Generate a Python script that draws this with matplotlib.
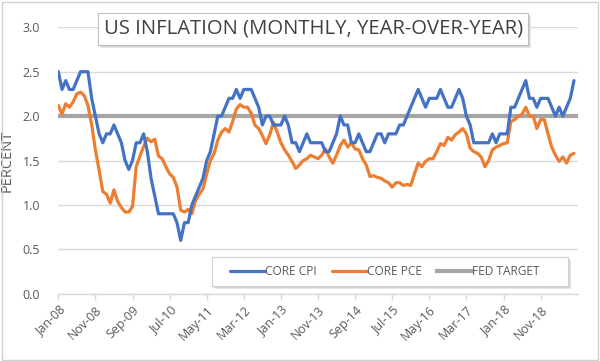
import matplotlib
matplotlib.use("Agg")
import matplotlib.pyplot as plt
from matplotlib.patches import Rectangle
import numpy as np

plt.rcParams['font.family'] = ['Open Sans', 'DejaVu Sans']

tick_labels = ['Jan-08', 'Nov-08', 'Sep-09', 'Jul-10', 'May-11', 'Mar-12', 'Jan-13',
               'Nov-13', 'Sep-14', 'Jul-15', 'May-16', 'Mar-17', 'Jan-18', 'Nov-18']

core_cpi = [
    2.5, 2.3, 2.4, 2.3, 2.3, 2.4, 2.5, 2.5, 2.5, 2.2, 2.0, 1.8,
    1.7, 1.8, 1.8, 1.9, 1.8, 1.7, 1.5, 1.4, 1.5, 1.7, 1.7, 1.8,
    1.6, 1.3, 1.1, 0.9, 0.9, 0.9, 0.9, 0.9, 0.8, 0.6, 0.8, 0.8,
    1.0, 1.1, 1.2, 1.3, 1.5, 1.6, 1.8, 2.0, 2.0, 2.1, 2.2, 2.2,
    2.3, 2.2, 2.3, 2.3, 2.3, 2.2, 2.1, 1.9, 2.0, 2.0, 1.9, 1.9,
    1.9, 2.0, 1.9, 1.7, 1.7, 1.6, 1.7, 1.8, 1.7, 1.7, 1.7, 1.7,
    1.6, 1.6, 1.7, 1.8, 2.0, 1.9, 1.9, 1.7, 1.7, 1.8, 1.7, 1.6,
    1.6, 1.7, 1.8, 1.8, 1.7, 1.8, 1.8, 1.8, 1.9, 1.9, 2.0, 2.1,
    2.2, 2.3, 2.2, 2.1, 2.2, 2.2, 2.2, 2.3, 2.2, 2.1, 2.1, 2.2,
    2.3, 2.2, 2.0, 1.9, 1.7, 1.7, 1.7, 1.7, 1.7, 1.8, 1.7, 1.8,
    1.8, 1.8, 2.1, 2.1, 2.2, 2.3, 2.4, 2.2, 2.2, 2.1, 2.2, 2.2,
    2.2, 2.1, 2.0, 2.1, 2.0, 2.1, 2.2, 2.4,
]

core_pce = [
    2.12, 2.02, 2.14, 2.10, 2.16, 2.25, 2.27, 2.23, 2.12, 1.90, 1.62, 1.39,
    1.15, 1.12, 1.02, 1.17, 1.04, 0.97, 0.92, 0.92, 0.98, 1.43, 1.55, 1.66,
    1.75, 1.71, 1.74, 1.55, 1.52, 1.43, 1.35, 1.31, 1.20, 0.94, 0.92, 0.95,
    0.90, 1.05, 1.12, 1.18, 1.35, 1.50, 1.58, 1.73, 1.82, 1.86, 1.82, 1.94,
    2.08, 2.13, 2.10, 2.10, 2.03, 1.90, 1.86, 1.78, 1.69, 1.79, 1.93, 1.82,
    1.70, 1.62, 1.56, 1.49, 1.41, 1.45, 1.50, 1.52, 1.56, 1.54, 1.52, 1.56,
    1.63, 1.54, 1.47, 1.56, 1.67, 1.73, 1.65, 1.70, 1.63, 1.62, 1.52, 1.45,
    1.32, 1.33, 1.31, 1.30, 1.27, 1.25, 1.20, 1.25, 1.25, 1.22, 1.23, 1.22,
    1.35, 1.47, 1.43, 1.49, 1.52, 1.52, 1.60, 1.69, 1.67, 1.76, 1.73, 1.79,
    1.82, 1.86, 1.80, 1.64, 1.60, 1.58, 1.54, 1.43, 1.50, 1.62, 1.65, 1.67,
    1.69, 1.70, 1.94, 1.96, 2.00, 2.02, 2.10, 2.00, 2.00, 1.86, 1.96, 1.96,
    1.80, 1.65, 1.56, 1.49, 1.54, 1.47, 1.56, 1.58,
]

fed_target = 2.0

series_names = ['CORE CPI', 'CORE PCE', 'FED TARGET']
colors = ['#4472C4', '#ED7D31', '#A5A5A5']

W, H = 600, 361
fig = plt.figure(figsize=(6.0, 3.61), dpi=100)
fig.patch.set_facecolor('white')

ax = fig.add_axes([58.3 / W, 1 - 293.7 / H, (577.7 - 58.3) / W, (293.7 - 27.3) / H])

x = np.arange(len(core_cpi))
fed_line = ax.axhline(fed_target, color=colors[2], lw=3.0, zorder=2, label=series_names[2])
l1, = ax.plot(x, core_cpi, color=colors[0], lw=2.3, zorder=4, label=series_names[0],
              solid_joinstyle='round', solid_capstyle='round')
l2, = ax.plot(np.arange(len(core_pce)), core_pce, color=colors[1], lw=2.3, zorder=3,
              label=series_names[1], solid_joinstyle='round', solid_capstyle='round')

ax.set_xlim(0, 140)
ax.set_ylim(0, 3.0)
yt = np.arange(0, 3.01, 0.5)
ax.set_yticks(yt)
ax.set_yticklabels([f'{v:.1f}' for v in yt])
ax.yaxis.grid(True, color='#D9D9D9', lw=1.0)
ax.set_axisbelow(True)
ax.tick_params(axis='y', length=0, pad=13, labelsize=9, labelcolor='#595959')

ax.set_xticks(np.arange(0, 140, 10))
ax.set_xticklabels(tick_labels, rotation=45, ha='right', rotation_mode='anchor',
                   fontsize=9, color='#595959')
ax.tick_params(axis='x', length=4, color='#D9D9D9', width=1, pad=3)

for s in ['top', 'right', 'left']:
    ax.spines[s].set_visible(False)
ax.spines['bottom'].set_color('#D9D9D9')
ax.spines['bottom'].set_linewidth(1.0)

ax.set_ylabel('PERCENT', fontsize=10.5, color='#595959')
ax.yaxis.set_label_coords(-(58.3 - 14.5) / (577.7 - 58.3), 0.5)

# Title box with shadow
tx0, tx1, ty0, ty1 = 98.3, 528.3, 12.7, 45.0
for off, c in [(3.0, '#E6E6E6'), (2.0, '#D4D4D4')]:
    fig.patches.append(Rectangle(((tx0 + off) / W, 1 - (ty1 + off) / H), (tx1 - tx0) / W,
                                 (ty1 - ty0) / H, transform=fig.transFigure,
                                 facecolor=c, edgecolor='none', zorder=5))
fig.patches.append(Rectangle((tx0 / W, 1 - ty1 / H), (tx1 - tx0) / W, (ty1 - ty0) / H,
                             transform=fig.transFigure, facecolor='white',
                             edgecolor='#BFBFBF', lw=0.8, zorder=6))
fig.text((tx0 + tx1) / 2 / W, 1 - (ty0 + ty1) / 2 / H, 'US INFLATION (MONTHLY, YEAR-OVER-YEAR)',
         ha='center', va='center', fontsize=14.6, color='#404040', zorder=7)

# Legend box with shadow
lx0, lx1, ly0, ly1 = 211.7, 568.0, 256.7, 286.0
for off, c in [(3.0, '#E6E6E6'), (2.0, '#D4D4D4')]:
    fig.patches.append(Rectangle(((lx0 + off) / W, 1 - (ly1 + off) / H), (lx1 - lx0) / W,
                                 (ly1 - ly0) / H, transform=fig.transFigure,
                                 facecolor=c, edgecolor='none', zorder=5))
fig.patches.append(Rectangle((lx0 / W, 1 - ly1 / H), (lx1 - lx0) / W, (ly1 - ly0) / H,
                             transform=fig.transFigure, facecolor='white',
                             edgecolor='#D0D0D0', lw=0.8, zorder=6))
handles = [l1, l2, fed_line]
leg = fig.legend(handles, series_names, loc='center', ncol=3,
                 bbox_to_anchor=(385 / W, 1 - (ly0 + ly1) / 2 / H),
                 frameon=False, fontsize=8.6, handlelength=2.9, handletextpad=0.05,
                 columnspacing=1.25, labelcolor='#595959', borderpad=0, borderaxespad=0)
leg.set_zorder(8)

# Outer frame
fig.patches.append(Rectangle((2 / W, 1.5 / H), 596 / W, (H - 3.5) / H, transform=fig.transFigure,
                             facecolor='none', edgecolor='#D0D0D0', lw=1.0, zorder=1))

fig.savefig('out.png', dpi=100)
